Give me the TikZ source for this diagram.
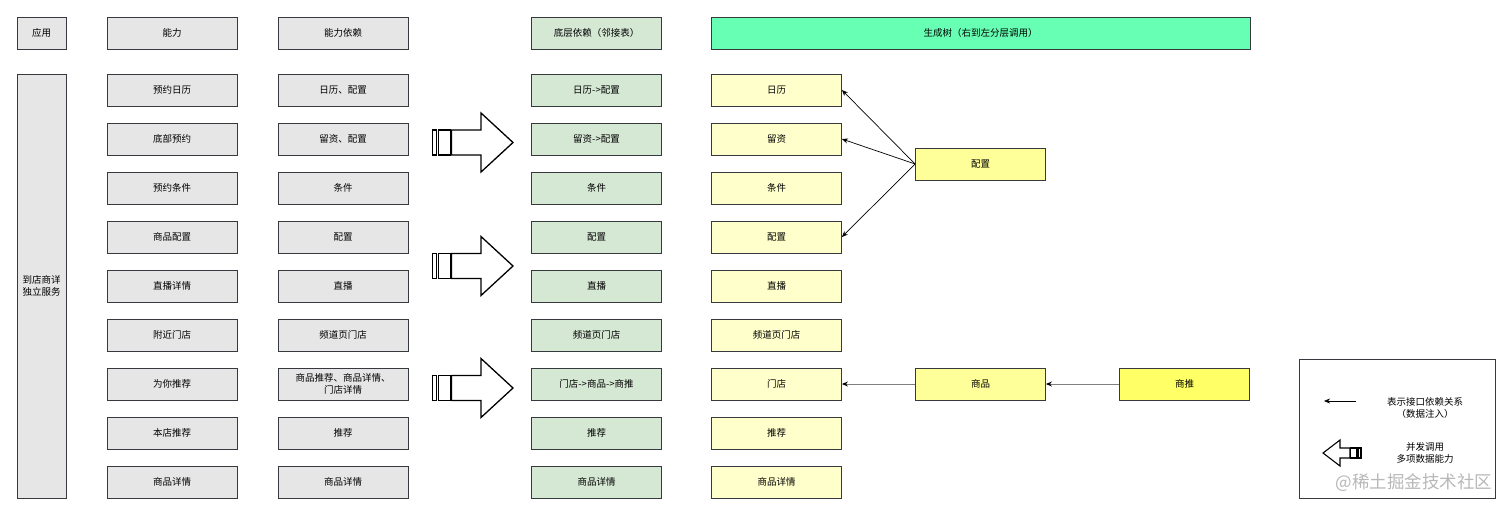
\documentclass[tikz,border=0pt]{standalone}
\usepackage{fontspec}
\setmainfont{Noto Sans CJK SC}
\usepackage{xcolor}
\usetikzlibrary{arrows.meta}
\definecolor{boxgray}{HTML}{E6E6E6}
\definecolor{boxgreen}{HTML}{D5E8D4}
\definecolor{treegreen}{HTML}{66FFB3}
\definecolor{leafyellow}{HTML}{FFFFCC}
\definecolor{midyellow}{HTML}{FFFF99}
\definecolor{rootyellow}{HTML}{FFFF66}
\definecolor{edgegray}{HTML}{36393D}
\definecolor{chaingray}{HTML}{7F7F7F}
% wide call arrow between the columns, #1 = centre height
\newcommand{\callarrow}[1]{%
  \begin{scope}[shift={(0,#1)}]
    \draw[blockarr] (432.5,-12.5) rectangle (436.5,12.5);
    \draw[blockarr] (438.5,-12.5) rectangle (450.5,12.5);
    \draw[blockarr] (451.5,-12.5) -- (481,-12.5) -- (481,-29.5) -- (513,0)
      -- (481,29.5) -- (481,12.5) -- (451.5,12.5) -- cycle;
  \end{scope}}

\begin{document}
\begin{tikzpicture}[x=1pt, y=-1pt, >=Stealth,
    font=\fontsize{9.5}{11.5}\selectfont,
    box/.style={draw=edgegray, line width=0.8pt, minimum width=130pt,
      minimum height=32pt, inner sep=0pt, align=center},
    graybox/.style={box, fill=boxgray},
    greenbox/.style={box, fill=boxgreen},
    leafbox/.style={box, fill=leafyellow},
    blockarr/.style={draw=black, line width=1.3pt, fill=white, line join=miter},
    dep/.style={-{Stealth[length=6pt, width=5pt]}, line width=0.7pt},
    chain/.style={-{Stealth[length=6pt, width=5pt, color=black]}, draw=chaingray, line width=1pt}]
  \useasboundingbox (0,0) rectangle (1512,515);

  % Header row
  \node[graybox, minimum width=49pt] (hApp) at (41.5,33) {应用};
  \node[graybox] (hCap) at (172,33) {能力};
  \node[graybox] (hDep) at (343,33) {能力依赖};
  \node[greenbox] (hLow) at (596.5,33) {底层依赖（邻接表）};
  \node[box, fill=treegreen, minimum width=539pt] (hTree) at (980.5,33) {生成树（右到左分层调用）};

  % Application
  \node[graybox, minimum width=49pt, minimum height=424pt] (app) at (41.5,286) {到店商详\\独立服务};

  % Capabilities
  \node[graybox] (cap1) at (172,90) {预约日历};
  \node[graybox] (cap2) at (172,139) {底部预约};
  \node[graybox] (cap3) at (172,188) {预约条件};
  \node[graybox] (cap4) at (172,237) {商品配置};
  \node[graybox] (cap5) at (172,286) {直播详情};
  \node[graybox] (cap6) at (172,335) {附近门店};
  \node[graybox] (cap7) at (172,384) {为你推荐};
  \node[graybox] (cap8) at (172,433) {本店推荐};
  \node[graybox] (cap9) at (172,482) {商品详情};

  % Capability dependencies
  \node[graybox] (dep1) at (343,90) {日历、配置};
  \node[graybox] (dep2) at (343,139) {留资、配置};
  \node[graybox] (dep3) at (343,188) {条件};
  \node[graybox] (dep4) at (343,237) {配置};
  \node[graybox] (dep5) at (343,286) {直播};
  \node[graybox] (dep6) at (343,335) {频道页门店};
  \node[graybox] (dep7) at (343,384) {商品推荐、商品详情、\\门店详情};
  \node[graybox] (dep8) at (343,433) {推荐};
  \node[graybox] (dep9) at (343,482) {商品详情};

  % Concurrent calls
  \callarrow{142.5}
  \callarrow{266}
  \callarrow{388}

  % Adjacency list
  \node[greenbox] (low1) at (596.5,90) {日历->配置};
  \node[greenbox] (low2) at (596.5,139) {留资->配置};
  \node[greenbox] (low3) at (596.5,188) {条件};
  \node[greenbox] (low4) at (596.5,237) {配置};
  \node[greenbox] (low5) at (596.5,286) {直播};
  \node[greenbox] (low6) at (596.5,335) {频道页门店};
  \node[greenbox] (low7) at (596.5,384) {门店->商品->商推};
  \node[greenbox] (low8) at (596.5,433) {推荐};
  \node[greenbox] (low9) at (596.5,482) {商品详情};

  % Generated tree
  \node[leafbox] (leaf1) at (776.5,90) {日历};
  \node[leafbox] (leaf2) at (776.5,139) {留资};
  \node[leafbox] (leaf3) at (776.5,188) {条件};
  \node[leafbox] (leaf4) at (776.5,237) {配置};
  \node[leafbox] (leaf5) at (776.5,286) {直播};
  \node[leafbox] (leaf6) at (776.5,335) {频道页门店};
  \node[leafbox] (leaf7) at (776.5,384) {门店};
  \node[leafbox] (leaf8) at (776.5,433) {推荐};
  \node[leafbox] (leaf9) at (776.5,482) {商品详情};

  \node[box, fill=midyellow] (config) at (980.5,164) {配置};
  \node[box, fill=midyellow] (goods) at (980.5,384) {商品};
  \node[box, fill=rootyellow] (push) at (1184.5,384) {商推};

  \draw[dep] (config.west) -- (leaf1.east);
  \draw[dep] (config.west) -- (leaf2.east);
  \draw[dep] (config.west) -- (leaf4.east);
  \draw[chain] (push) -- (goods);
  \draw[chain] (goods) -- (leaf7);

  % Legend
  \node[draw=edgegray, line width=0.8pt, fill=white, minimum width=196pt,
    minimum height=139pt, inner sep=0pt] (legend) at (1397,428.5) {};
  \coordinate (keyTail) at (1356,401);
  \coordinate (keyHead) at (1324,401);
  \draw[dep, line width=0.6pt] (keyTail) -- (keyHead);
  \node[align=center] (keyDep) at (1425,408) {表示接口依赖关系\\（数据注入）};
  \begin{scope}[shift={(0,453)}]
    \draw[blockarr, line width=1.1pt] (1350,-5) -- (1340,-5) -- (1340,-13) -- (1323,0)
      -- (1340,13) -- (1340,5) -- (1350,5) -- cycle;
    \draw[blockarr, line width=1.1pt] (1350.5,-5) rectangle (1356.5,5);
    \draw[blockarr, line width=1.1pt] (1358,-5) rectangle (1361,5);
  \end{scope}
  \node[align=center] (keyCall) at (1425,453) {并发调用\\多项数据能力};

  % Watermark
  \node[text=black!28, font=\fontsize{17.5}{17.5}\selectfont] (mark) at (1414,483) {@稀土掘金技术社区};
\end{tikzpicture}
\end{document}
